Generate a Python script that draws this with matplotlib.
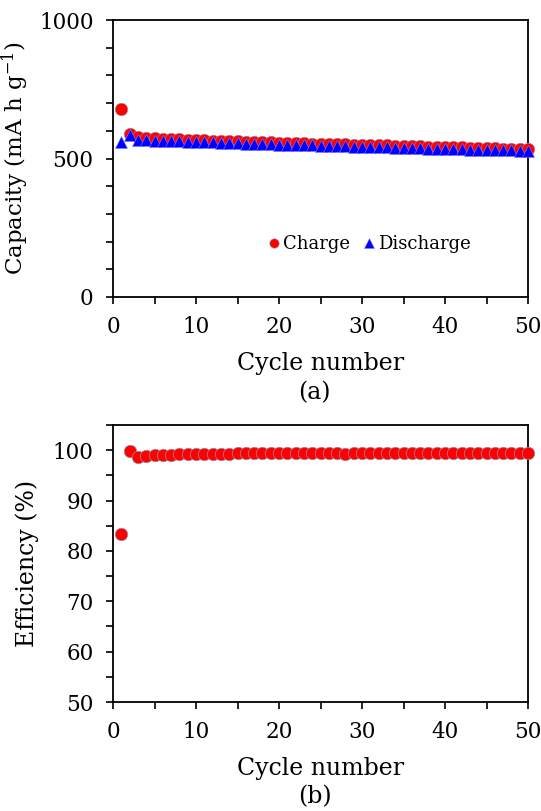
import matplotlib
matplotlib.use("Agg")
import matplotlib.pyplot as plt
from matplotlib.ticker import MultipleLocator

cycles = list(range(1, 51))
charge = [678, 588, 576, 574, 573, 571, 570, 569, 568, 567,
          566, 565, 564, 563, 562, 561, 560, 559, 558, 557,
          557, 556, 555, 554, 553, 552, 552, 551, 550, 549,
          548, 548, 547, 546, 545, 545, 544, 543, 542, 542,
          541, 540, 539, 539, 538, 537, 536, 536, 535, 534]
discharge = [560, 586, 567, 566, 565, 564, 563, 562, 561, 560,
             559, 558, 557, 556, 555, 554, 553, 552, 551, 550,
             550, 549, 548, 547, 546, 545, 545, 544, 543, 542,
             541, 541, 540, 539, 538, 538, 537, 536, 535, 535,
             534, 533, 532, 532, 531, 530, 529, 529, 528, 528]
efficiency = [83.3, 99.8, 98.6, 98.8, 99.0, 99.1, 99.15, 99.2, 99.25, 99.3,
              99.3, 99.3, 99.3, 99.3, 99.35, 99.35, 99.35, 99.4, 99.4, 99.4,
              99.4, 99.4, 99.4, 99.4, 99.4, 99.4, 99.4, 99.25, 99.4, 99.4,
              99.4, 99.4, 99.4, 99.4, 99.4, 99.4, 99.4, 99.4, 99.45, 99.45,
              99.5, 99.5, 99.5, 99.5, 99.5, 99.5, 99.5, 99.5, 99.5, 99.5]

plt.rcParams['font.family'] = ['DejaVu Serif']
plt.rcParams['mathtext.fontset'] = 'dejavuserif'

fig = plt.figure(figsize=(5.41, 8.11), dpi=100)
ax1 = fig.add_axes([0.2089, 0.6338, 0.7671, 0.3415])
ax2 = fig.add_axes([0.2089, 0.1344, 0.7671, 0.3415])

ms = 9
ax1.plot(cycles, charge, 'o', color='#ff0000', markeredgecolor='#9090b0',
         markeredgewidth=0.4, markersize=ms, label='Charge', clip_on=False, zorder=3)
ax1.plot(cycles, discharge, '^', color='#0000ff', markeredgecolor='#8080ff',
         markeredgewidth=0.4, markersize=ms, label='Discharge', clip_on=False, zorder=4)
ax1.set_xlim(0, 50)
ax1.set_ylim(0, 1000)
ax1.yaxis.set_major_locator(MultipleLocator(500))
ax1.yaxis.set_minor_locator(MultipleLocator(100))
ax1.set_ylabel(r'Capacity (mA h g$^{-1}$)', fontsize=16.5)
ax1.yaxis.set_label_coords(-0.197, 0.5)
ax1.set_xlabel('Cycle number', fontsize=17, labelpad=10)
leg = ax1.legend(loc='center right', bbox_to_anchor=(0.885, 0.19), ncol=2, frameon=False,
                 fontsize=13, markerscale=0.75, handletextpad=0.0, columnspacing=0.6,
                 handlelength=1.0, borderpad=0)

ax2.plot(cycles, efficiency, 'o', color='#ff0000', markeredgecolor='#9090b0',
         markeredgewidth=0.5, markersize=ms, clip_on=False, zorder=3)
ax2.set_xlim(0, 50)
ax2.set_ylim(50, 105)
ax2.yaxis.set_major_locator(MultipleLocator(10))
ax2.yaxis.set_minor_locator(MultipleLocator(5))
ax2.set_ylabel('Efficiency (%)', fontsize=17)
ax2.yaxis.set_label_coords(-0.178, 0.5)
ax2.set_xlabel('Cycle number', fontsize=17, labelpad=10)

for ax in (ax1, ax2):
    ax.xaxis.set_major_locator(MultipleLocator(10))
    ax.xaxis.set_minor_locator(MultipleLocator(5))
    for s in ax.spines.values():
        s.set_linewidth(1.3)
    ax.tick_params(which='both', direction='out', top=False, right=False,
                   length=5, width=1.2, labelsize=15.5)
    ax.tick_params(which='major', pad=9)

fig.text(0.582, 1 - 393 / 811, '(a)', ha='center', va='center', fontsize=17)
fig.text(0.582, 1 - 797 / 811, '(b)', ha='center', va='center', fontsize=17)

fig.savefig('out.png', dpi=100)
